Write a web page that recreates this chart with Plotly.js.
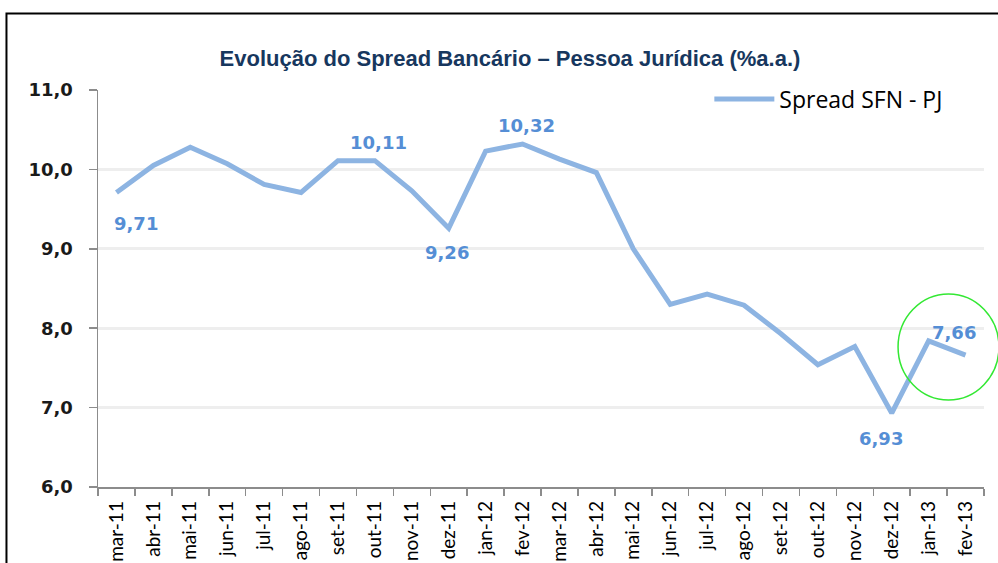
<!DOCTYPE html>
<html>
<head>
<meta charset="utf-8">
<script src="https://cdn.plot.ly/plotly-3.0.1.min.js"></script>
<style>
  html, body { margin: 0; padding: 0; background: #ffffff; }
  #chart { width: 998px; height: 563px; }
</style>
</head>
<body>
<div id="chart"></div>
<script>
// ---- data ----
const months = ["mar-11","abr-11","mai-11","jun-11","jul-11","ago-11","set-11","out-11","nov-11","dez-11","jan-12","fev-12",
                "mar-12","abr-12","mai-12","jun-12","jul-12","ago-12","set-12","out-12","nov-12","dez-12","jan-13","fev-13"];
const spread = [9.71, 10.05, 10.28, 10.07, 9.81, 9.71, 10.11, 10.11, 9.73, 9.26, 10.23, 10.32,
                10.13, 9.96, 9.00, 8.30, 8.43, 8.29, 7.93, 7.54, 7.77, 6.93, 7.84, 7.66];
const seriesName = "Spread SFN - PJ";
const chartTitle = "Evolução do Spread Bancário – Pessoa Jurídica (%a.a.)";
const yTicks = [6, 7, 8, 9, 10, 11];
// labelled points: index into months, label position offsets
const labelIdx = [0, 7, 9, 11, 21, 23];
const labelShift = [[20,-31],[4,18],[-2,-24],[4,18],[-11,-25],[-12,23]];

const lineColor = "#8DB4E2";
const labelColor = "#558ED5";

const annotations = labelIdx.map((i, k) => ({
  x: months[i], y: spread[i], xref: "x", yref: "y",
  text: spread[i].toFixed(2).replace(".", ","),
  showarrow: false,
  xshift: labelShift[k][0], yshift: labelShift[k][1],
  font: {family: "DejaVu Sans", size: 18, color: labelColor, weight: "bold"}
}));

const trace = {
  type: "scatter", mode: "lines",
  x: months, y: spread, name: seriesName,
  line: {color: lineColor, width: 5},
  showlegend: true
};

const layout = {
  width: 998, height: 563,
  margin: {l: 98, r: 14, t: 90, b: 76},
  paper_bgcolor: "#ffffff", plot_bgcolor: "#ffffff",
  separators: ",.",
  title: {
    text: "<b>" + chartTitle + "</b>",
    x: 0.511, xref: "container", xanchor: "center",
    y: 0.897, yref: "container", yanchor: "middle",
    font: {family: "Liberation Sans", size: 22, color: "#17375E"}
  },
  showlegend: true,
  legend: {
    x: 0.69, xanchor: "left", y: 0.977, yanchor: "middle",
    bgcolor: "rgba(0,0,0,0)", borderwidth: 0,
    font: {family: "Open Sans", size: 23, color: "#000000"},
    itemwidth: 60
  },
  xaxis: {
    type: "category",
    tickson: "boundaries",
    ticks: "outside", ticklen: 7, tickcolor: "#8C8C8C", tickwidth: 1.5,
    showline: true, linecolor: "#8C8C8C", linewidth: 1.5,
    showgrid: false, zeroline: false,
    tickangle: -90,
    ticklabelstandoff: 5,
    tickfont: {family: "Lato", size: 19, color: "#000000"},
    range: [-0.5, months.length - 0.5]
  },
  yaxis: {
    range: [6, 11],
    tickvals: yTicks,
    tickformat: ".1f",
    ticks: "outside", ticklen: 8, tickcolor: "#8C8C8C", tickwidth: 1.5,
    showline: true, linecolor: "#8C8C8C", linewidth: 1.5,
    showgrid: true, gridcolor: "#EEEEEE", gridwidth: 3,
    zeroline: false,
    ticklabelstandoff: 12,
    tickfont: {family: "DejaVu Sans", size: 18, color: "#1a1a1a", weight: "bold"}
  },
  annotations: annotations,
  shapes: [
    {type: "rect", xref: "paper", yref: "paper",
     x0: -0.1033, x1: 1.06, y0: -0.4, y1: 1.1927,
     line: {color: "#000000", width: 2}, fillcolor: "rgba(0,0,0,0)", layer: "above"},
    {type: "circle", xref: "paper", yref: "paper",
     x0: 0.903, x1: 1.0169, y0: 0.2191, y1: 0.4861,
     line: {color: "#33E833", width: 1.5}, fillcolor: "rgba(0,0,0,0)", layer: "above"}
  ]
};

Plotly.newPlot("chart", [trace], layout, {displayModeBar: false, staticPlot: true});
</script>
</body>
</html>
